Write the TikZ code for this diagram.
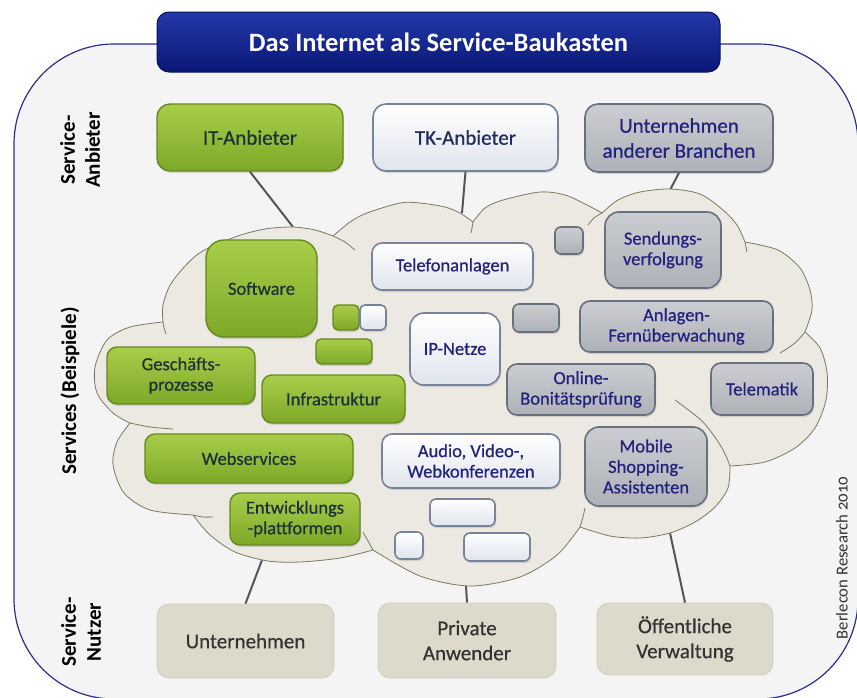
\documentclass[tikz,border=0pt]{standalone}
\usepackage{fontspec}
\setmainfont{Carlito}
\newfontfamily\boxfont{Carlito}[FakeBold=0.6]
\usetikzlibrary{shadows}
\definecolor{bgc}{HTML}{F4F4F4}
\definecolor{framec}{HTML}{2B2F8C}
\definecolor{cloudf}{HTML}{EBE9E1}
\definecolor{clouds}{HTML}{7D7860}
\definecolor{gtopc}{HTML}{A8CD4A}
\definecolor{gbotc}{HTML}{7FA828}
\definecolor{gdrawc}{HTML}{66891E}
\definecolor{gtextc}{HTML}{1E3038}
\definecolor{wtopc}{HTML}{FFFFFF}
\definecolor{wbotc}{HTML}{E0E4EC}
\definecolor{wdrawc}{HTML}{77839A}
\definecolor{ytopc}{HTML}{CBCDD1}
\definecolor{ybotc}{HTML}{AEB1B7}
\definecolor{ydrawc}{HTML}{66707F}
\definecolor{navyc}{HTML}{22227E}
\definecolor{tkc}{HTML}{1E2B5E}
\definecolor{berc}{HTML}{333333}
\definecolor{ufillc}{HTML}{DEDACB}
\definecolor{udrawc}{HTML}{D2CEBE}
\definecolor{utextc}{HTML}{333333}
\definecolor{conc}{HTML}{555555}
\definecolor{ttop}{HTML}{2338A8}
\definecolor{tbot}{HTML}{0A1776}
\definecolor{tdraw}{HTML}{08125E}
\newcommand\bx[7]{\node[#2, minimum width={#5-#3}, minimum height={#6-#4}] (#1) at ({(#3+#5)/2},{(#4+#6)/2}) {#7};}
\tikzset{
  basebox/.style={inner sep=0pt, align=center, rounded corners=10pt, drop shadow={shadow xshift=1pt, shadow yshift=-2pt, opacity=0.25}},
  cfont/.style={font=\boxfont\fontsize{18.5}{20.5}\selectfont},
  bfont/.style={font=\boxfont\fontsize{21}{25}\selectfont},
  gbox/.style={basebox, cfont, draw=gdrawc, line width=1.4pt, top color=gtopc, bottom color=gbotc, text=gtextc},
  wbox/.style={basebox, cfont, draw=wdrawc, line width=1.6pt, top color=wtopc, bottom color=wbotc, text=navyc},
  ybox/.style={basebox, cfont, draw=ydrawc, line width=1.6pt, top color=ytopc, bottom color=ybotc, text=navyc},
  gtopbox/.style={gbox, bfont, rounded corners=13pt},
  wtopbox/.style={wbox, bfont, rounded corners=13pt},
  ytopbox/.style={ybox, bfont, rounded corners=13pt},
  ubox/.style={inner sep=0pt, align=center, bfont, rounded corners=12pt, draw=udrawc, line width=0.8pt, fill=ufillc, text=utextc},
  lab/.style={align=center, font=\bfseries\fontsize{21}{25}\selectfont, text=black},
  conn/.style={draw=conc, line width=2pt},
  cloudline/.style={draw=clouds, line width=0.8pt},
}
\begin{document}
\begin{tikzpicture}[x=1pt, y=-1pt]
\useasboundingbox (0,0) rectangle (857,697);
% outer frame
\draw[fill=bgc, draw=framec, line width=1.2pt, rounded corners=100pt] (14,44) rectangle (858,699);
% title
\node[draw=tdraw, line width=1pt, top color=ttop, bottom color=tbot, rounded corners=12pt, minimum width=563, minimum height=60, text=white, font=\bfseries\fontsize{26.5}{30}\selectfont] (ttl) at (438.5,42) {Das Internet als Service-Baukasten};
% top and bottom boxes
\bx{itb}{gtopbox}{157}{104}{343}{171}{IT-Anbieter}
\bx{tkb}{wtopbox, text=tkc}{373}{104}{558}{171}{TK-Anbieter}
\bx{uab}{ytopbox}{585}{104}{773}{172}{Unternehmen\\anderer Branchen}
\bx{unt}{ubox}{157}{604}{334}{678}{Unternehmen}
\bx{pri}{ubox}{378}{603}{556}{678}{Private\\Anwender}
\bx{oev}{ubox}{597}{603}{773}{675}{Öffentliche\\Verwaltung}
% connector ends on the cloud
\coordinate (cIT) at (293,227);
\coordinate (cTK) at (462,213);
\coordinate (cUA) at (670,190);
\coordinate (cUN) at (262,560);
\coordinate (cPR) at (466,586);
\coordinate (cOV) at (670,533);
\draw[conn] (itb.south) -- (cIT);
\draw[conn] (tkb.south) -- (cTK);
\draw[conn] (uab.south) -- (cUA);
\draw[conn] (unt.north) -- (cUN);
\draw[conn] (pri.north) -- (cPR);
\draw[conn] (oev.north) -- (cOV);
% cloud
\path[fill=cloudf, cloudline]
  plot[smooth] coordinates {(130,423) (113,413) (97,393) (95,367) (107,340) (130,327) (163,322)}
  -- plot[smooth] coordinates {(163,322) (163,305) (172,282) (198,254) (235,237) (265,229) (293,227) (315,230) (333,236)}
  -- plot[smooth] coordinates {(333,236) (350,222) (367,213) (400,203) (420,203) (445,207) (460,213) (473,222)}
  -- plot[smooth] coordinates {(473,222) (485,208) (503,200) (540,192) (565,195) (587,205) (602,213)}
  -- plot[smooth] coordinates {(602,213) (618,200) (640,192) (670,189) (700,194) (723,210) (737,225) (745,242)}
  -- plot[smooth] coordinates {(745,242) (778,250) (800,268) (810,290) (812,310) (805,332)}
  -- plot[smooth] coordinates {(805,332) (820,348) (827,372) (826,400) (815,428) (795,448) (765,462) (730,466)}
  -- plot[smooth] coordinates {(730,466) (728,488) (715,507) (695,522) (670,533) (640,538) (610,536) (580,527)}
  -- plot[smooth] coordinates {(580,527) (557,555) (520,577) (470,586) (420,576) (373,550)}
  -- plot[smooth] coordinates {(373,550) (340,558) (300,562) (268,561) (235,552) (210,535) (193,515)}
  -- plot[smooth] coordinates {(193,515) (150,510) (124,493) (113,465) (117,442) (130,423)}
  -- cycle;
% inner arcs
\draw[cloudline] plot[smooth] coordinates {(163,322) (164,328) (166,334)};
\draw[cloudline] plot[smooth] coordinates {(130,423) (150,427) (173,429)};
\draw[cloudline] plot[smooth] coordinates {(193,515) (203,517) (213,517)};
\draw[cloudline] plot[smooth] coordinates {(373,550) (368,541) (363,532)};
\draw[cloudline] plot[smooth] coordinates {(580,527) (583,517) (585,508)};
\draw[cloudline] plot[smooth] coordinates {(730,466) (722,448) (703,422) (675,400)};
\draw[cloudline] plot[smooth] coordinates {(805,332) (795,343) (780,353)};
\draw[cloudline] plot[smooth] coordinates {(745,242) (746,247) (747,252)};
\draw[cloudline] plot[smooth] coordinates {(333,236) (345,242) (355,250)};
\draw[cloudline] plot[smooth] coordinates {(473,222) (472,228) (471,233)};
\draw[cloudline] plot[smooth] coordinates {(602,213) (594,218) (588,225)};
% cloud boxes
\bx{sw}{gbox, rounded corners=18pt}{206}{240}{317}{337}{Software}
\bx{gq1}{gbox, rounded corners=5pt}{333}{305}{359}{330}{}
\bx{wq1}{wbox, rounded corners=5pt}{360}{305}{386}{330}{}
\bx{gr1}{gbox, rounded corners=5pt}{316}{339}{372}{364}{}
\bx{tel}{wbox}{372}{243}{533}{290}{Telefonanlagen}
\bx{ip}{wbox, rounded corners=14pt}{410}{313}{500}{385}{IP-Netze}
\bx{gp}{gbox}{107}{347}{255}{404}{Geschäfts-\\prozesse}
\bx{inf}{gbox}{262}{375}{405}{423}{Infrastruktur}
\bx{web}{gbox}{145}{434}{353}{483}{Webservices}
\bx{ent}{gbox}{230}{493}{360}{545}{Entwicklungs\\-plattformen}
\bx{avw}{wbox}{382}{434}{560}{488}{Audio, Video-,\\Webkonferenzen}
\bx{wr1}{wbox, rounded corners=6pt}{430}{499}{495}{526}{}
\bx{wq2}{wbox, rounded corners=6pt}{395}{532}{423}{559}{}
\bx{wr2}{wbox, rounded corners=6pt}{464}{533}{530}{561}{}
\bx{obp}{ybox}{507}{364}{655}{415}{Online-\\Bonitätsprüfung}
\bx{tma}{ybox}{711}{363}{813}{415}{Telematik}
\bx{afu}{ybox}{580}{301}{773}{352}{Anlagen-\\Fernüberwachung}
\bx{yr1}{ybox, rounded corners=6pt}{513}{304}{559}{332}{}
\bx{yq1}{ybox, rounded corners=6pt}{555}{227}{583}{254}{}
\bx{sdv}{ybox, rounded corners=14pt}{605}{212}{721}{288}{Sendungs-\\verfolgung}
\bx{msa}{ybox, rounded corners=14pt}{585}{427}{707}{506}{Mobile\\Shopping-\\Assistenten}
% side labels
\node[lab, rotate=90] (l1) at (80,150) {Service-\\Anbieter};
\node[lab, rotate=90] (l2) at (70,391) {Services (Beispiele)};
\node[lab, rotate=90] (l3) at (81,632) {Service-\\Nutzer};
\node[rotate=90, text=berc, font=\fontsize{16.7}{20}\selectfont] (ber) at (842,558) {Berlecon Research {\addfontfeatures{Numbers=OldStyle}2010}};
\end{tikzpicture}
\end{document}
